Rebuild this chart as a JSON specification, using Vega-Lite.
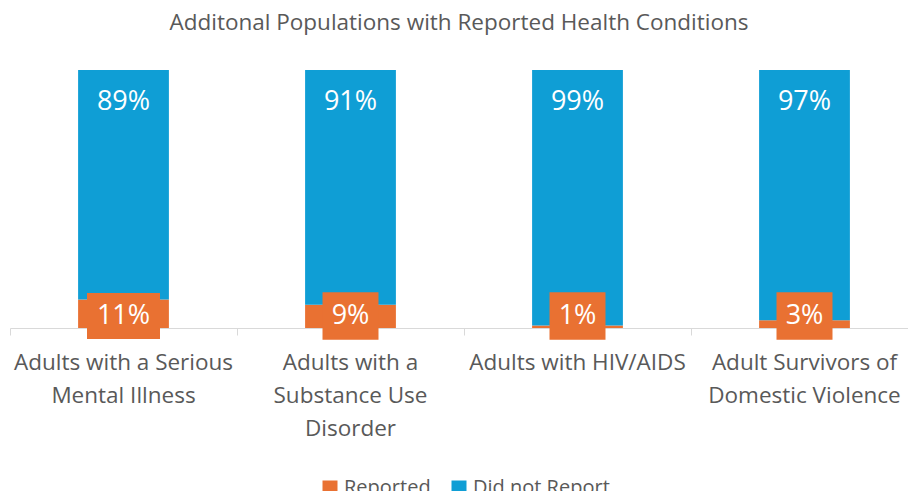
{
  "$schema": "https://vega.github.io/schema/vega-lite/v6.json",
  "autosize": "none",
  "width": 898,
  "height": 258,
  "padding": {"left": 10, "top": 70, "right": 0, "bottom": 163},
  "background": "white",
  "config": {
    "view": {"stroke": null},
    "font": "Open Sans"
  },
  "title": {
    "text": "Additonal Populations with Reported Health Conditions",
    "fontSize": 22.5,
    "fontWeight": "normal",
    "color": "#595959",
    "font": "Open Sans",
    "anchor": "middle",
    "offset": 36
  },
  "data": {
    "values": [
      {"category": "Adults with a Serious Mental Illness", "status": "Reported", "pct": 0.11},
      {"category": "Adults with a Serious Mental Illness", "status": "Did not Report", "pct": 0.89},
      {"category": "Adults with a Substance Use Disorder", "status": "Reported", "pct": 0.09},
      {"category": "Adults with a Substance Use Disorder", "status": "Did not Report", "pct": 0.91},
      {"category": "Adults with HIV/AIDS", "status": "Reported", "pct": 0.01},
      {"category": "Adults with HIV/AIDS", "status": "Did not Report", "pct": 0.99},
      {"category": "Adult Survivors of Domestic Violence", "status": "Reported", "pct": 0.03},
      {"category": "Adult Survivors of Domestic Violence", "status": "Did not Report", "pct": 0.97}
    ]
  },
  "transform": [
    {"stack": "pct", "groupby": ["category"], "sort": [{"field": "status", "order": "descending"}], "as": ["y0", "y1"]}
  ],
  "encoding": {
    "x": {
      "field": "category",
      "type": "nominal",
      "sort": null,
      "scale": {"range": [0, 908], "paddingInner": 0, "paddingOuter": 0},
      "axis": {
        "title": null,
        "labelAngle": 0,
        "bandPosition": 0,
        "domainColor": "#D9D9D9",
        "domainWidth": 1,
        "tickColor": "#D9D9D9",
        "tickSize": 7,
        "labelFontSize": 22.5,
        "labelColor": "#595959",
        "labelFont": "Open Sans",
        "labelPadding": 16,
        "labelLineHeight": 33,
        "labelBaseline": "top",
        "labelLimit": 300,
        "labelExpr": "datum.label == 'Adults with a Serious Mental Illness' ? ['Adults with a Serious', 'Mental Illness'] : datum.label == 'Adults with a Substance Use Disorder' ? ['Adults with a', 'Substance Use', 'Disorder'] : datum.label == 'Adult Survivors of Domestic Violence' ? ['Adult Survivors of', 'Domestic Violence'] : datum.label"
      }
    }
  },
  "layer": [
    {
      "mark": {"type": "bar", "width": {"band": 0.4}},
      "encoding": {
        "y": {"field": "y0", "type": "quantitative", "scale": {"domain": [0, 1]}, "axis": null},
        "y2": {"field": "y1"},
        "color": {
          "field": "status",
          "type": "nominal",
          "scale": {"domain": ["Reported", "Did not Report"], "range": ["#E97132", "#0F9ED5"]},
          "legend": {
            "title": null,
            "orient": "none",
            "direction": "horizontal",
            "legendX": 310,
            "legendY": 408,
            "symbolType": "square",
            "symbolSize": 225,
            "symbolStrokeWidth": 0,
            "labelFontSize": 20,
            "labelColor": "#595959",
            "labelFont": "Open Sans",
            "labelOffset": 4,
            "columnPadding": 18,
            "padding": 0
          }
        }
      }
    },
    {
      "transform": [{"filter": "datum.status == 'Reported'"}],
      "mark": {"type": "point", "filled": true, "opacity": 1, "color": "#E97132", "size": 5329, "yOffset": -12},
      "encoding": {
        "y": {"field": "y0", "type": "quantitative"},
        "shape": {
          "condition": {"test": "datum.pct >= 0.1", "value": "M-1,-0.63L1,-0.63L1,0.63L-1,0.63Z"},
          "value": "M-0.767,-0.65L0.767,-0.65L0.767,0.65L-0.767,0.65Z"
        }
      }
    },
    {
      "transform": [{"filter": "datum.status == 'Reported'"}],
      "mark": {"type": "text", "color": "white", "fontSize": 27, "font": "Open Sans", "baseline": "middle", "align": "center", "dy": -12},
      "encoding": {
        "y": {"field": "y0", "type": "quantitative"},
        "text": {"field": "pct", "type": "quantitative", "format": ".0%"}
      }
    },
    {
      "transform": [{"filter": "datum.status == 'Did not Report'"}],
      "mark": {"type": "text", "color": "white", "fontSize": 27, "font": "Open Sans", "baseline": "middle", "align": "center", "dy": 32},
      "encoding": {
        "y": {"field": "y1", "type": "quantitative"},
        "text": {"field": "pct", "type": "quantitative", "format": ".0%"}
      }
    }
  ]
}
